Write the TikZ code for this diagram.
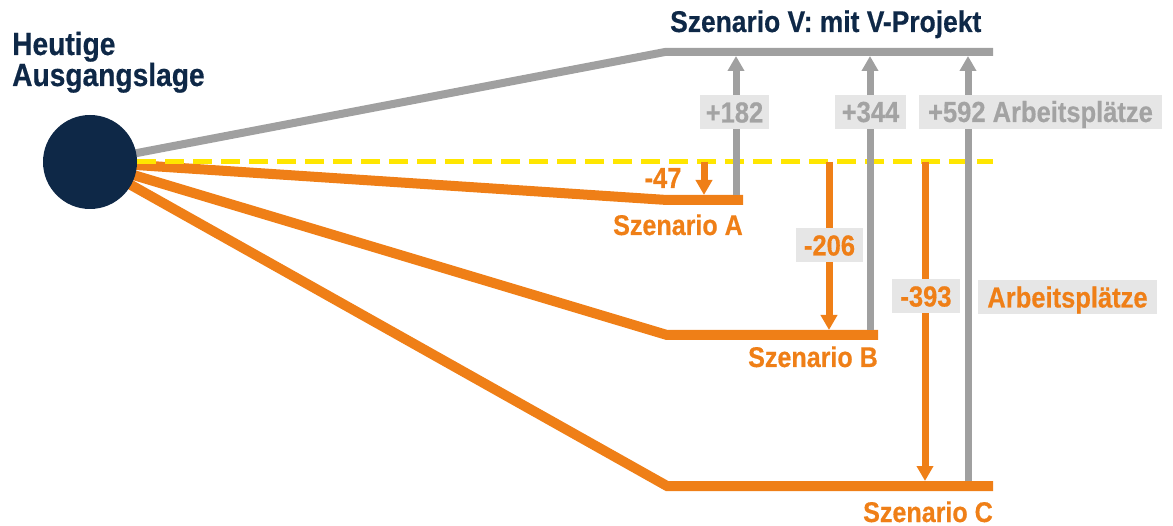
\documentclass[tikz,border=0pt]{standalone}
\usepackage{fontspec}
\setmainfont{Liberation Sans}[FakeStretch=0.88,FakeBold=0.5]
\usetikzlibrary{arrows.meta,backgrounds}
\definecolor{navy}{HTML}{0E2847}
\definecolor{lgray}{HTML}{A0A0A0}
\definecolor{boxgray}{HTML}{E6E6E6}
\definecolor{txtgray}{HTML}{A3A3A3}
\definecolor{orng}{HTML}{EF7F17}
\definecolor{yel}{HTML}{FFE600}
\begin{document}
\begin{tikzpicture}[x=1pt,y=-1pt,
  vline/.style={draw=lgray,line width=8pt},
  sline/.style={draw=orng,line width=10pt},
  gup/.style={draw=lgray,line width=7pt,-{Triangle[width=16pt,length=15pt]}},
  odown/.style={draw=orng,line width=7pt,-{Triangle[width=16pt,length=15pt]}},
  lbox/.style={fill=boxgray,inner sep=0pt,minimum height=34pt,text height=20pt,text depth=0pt,font=\fontsize{29}{29}\selectfont\bfseries},
  gbox/.style={lbox,text=txtgray},
  obox/.style={lbox,text=orng},
  lbl/.style={inner sep=0pt,font=\fontsize{28.5}{28.5}\selectfont\bfseries},
]
\useasboundingbox (0,0) rectangle (1173,526);

\node[circle,fill=navy,minimum size=94pt,inner sep=0pt] (origin) at (90,162) {};

\coordinate (vbend) at (665,52);
\coordinate (vend) at (993,52);
\coordinate (abend) at (667,200);
\coordinate (aend) at (743,200);
\coordinate (bbend) at (667,335);
\coordinate (bend) at (878,335);
\coordinate (cbend) at (667,486);
\coordinate (cend) at (993,486);
\coordinate (yend) at (993,162);
\coordinate (g1s) at (736,195);
\coordinate (g1t) at (736,56);
\coordinate (g2s) at (870,330);
\coordinate (g2t) at (870,56);
\coordinate (g3s) at (968,481);
\coordinate (g3t) at (968,56);
\coordinate (o1s) at (704,162);
\coordinate (o1t) at (704,195);
\coordinate (o2s) at (829,162);
\coordinate (o2t) at (829,330);
\coordinate (o3s) at (925,162);
\coordinate (o3t) at (925,481);

\begin{scope}[on background layer]
  \draw[vline] (origin.center) -- (vbend) -- (vend);
  \draw[sline] (origin.center) -- (abend) -- (aend);
  \draw[sline] (origin.center) -- (bbend) -- (bend);
  \draw[sline] (origin.center) -- (cbend) -- (cend);
  \draw[yel,line width=5pt,dash pattern=on 19pt off 9pt] (origin.east) -- (yend);
  \draw[gup] (g1s) -- (g1t);
  \draw[gup] (g2s) -- (g2t);
  \draw[gup] (g3s) -- (g3t);
  \draw[odown] (o1s) -- (o1t);
  \draw[odown] (o2s) -- (o2t);
  \draw[odown] (o3s) -- (o3t);
  \node[gbox,minimum width=69pt] (p182) at (734.5,112.5) {+182};
  \node[gbox,minimum width=71pt] (p344) at (870.5,112) {+344};
  \node[gbox,minimum width=243pt] (p592) at (1040.5,112) {+592 Arbeitsplätze};
  \node[obox,minimum width=67pt] (m206) at (829.5,245.5) {-206};
  \node[obox,minimum width=68pt] (m393) at (926,296.5) {-393};
  \node[obox,minimum width=179pt] (arb) at (1067.5,297.5) {Arbeitsplätze};
\end{scope}

\node[lbl,text=orng,anchor=base,font=\fontsize{29}{29}\selectfont\bfseries] (m47) at (663,188) {-47};
\node[lbl,text=orng,anchor=base east] (sa) at (743,235) {Szenario A};
\node[lbl,text=orng,anchor=base east] (sb) at (878,367) {Szenario B};
\node[lbl,text=orng,anchor=base east] (sc) at (993,522) {Szenario C};
\node[lbl,text=navy,anchor=base west,font=\fontsize{30}{30}\selectfont\bfseries] (sv) at (670,32) {Szenario V: mit V-Projekt};
\node[lbl,text=navy,anchor=base west,font=\fontsize{32}{32}\selectfont\bfseries] (h1) at (12,55) {Heutige};
\node[lbl,text=navy,anchor=base west,font=\fontsize{32}{32}\selectfont\bfseries] (h2) at (12,86) {Ausgangslage};
\end{tikzpicture}
\end{document}
